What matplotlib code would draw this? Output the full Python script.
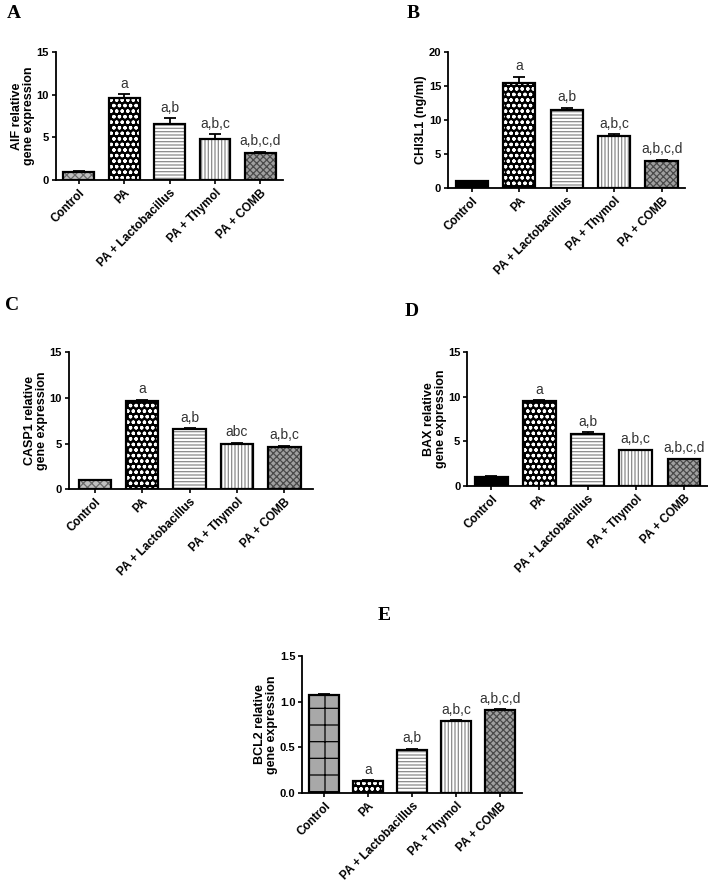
import numpy as np
import matplotlib
matplotlib.use("Agg")
import matplotlib.pyplot as plt

plt.rcParams['font.family'] = ['Liberation Sans', 'DejaVu Sans']
plt.rcParams['hatch.linewidth'] = 0.9

groups = ['Control', 'PA', 'PA + Lactobacillus', 'PA + Thymol', 'PA + COMB']

aif = [1.0, 9.6, 6.6, 4.8, 3.2]
aif_err = [0.1, 0.5, 0.7, 0.6, 0.15]
aif_sig = ['', 'a', 'a,b', 'a,b,c', 'a,b,c,d']

chi3l1 = [1.0, 15.5, 11.5, 7.6, 4.0]
chi3l1_err = [0.1, 0.9, 0.3, 0.3, 0.2]
chi3l1_sig = ['', 'a', 'a,b', 'a,b,c', 'a,b,c,d']

casp1 = [1.0, 9.7, 6.6, 5.0, 4.6]
casp1_err = [0.05, 0.1, 0.1, 0.1, 0.15]
casp1_sig = ['', 'a', 'a,b', 'abc', 'a,b,c']

bax = [1.0, 9.5, 5.8, 4.0, 3.0]
bax_err = [0.05, 0.15, 0.25, 0.05, 0.05]
bax_sig = ['', 'a', 'a,b', 'a,b,c', 'a,b,c,d']

bcl2 = [1.07, 0.13, 0.47, 0.79, 0.91]
bcl2_err = [0.01, 0.01, 0.015, 0.01, 0.01]
bcl2_sig = ['', 'a', 'a,b', 'a,b,c', 'a,b,c,d']

# (face, hatch colour, hatch) for each group
styles_grey_ctrl = [('#c0c0c0', '#6a6a6a', 'xxxx'),
                    ('black', 'white', 'ooo'),
                    ('white', '#8a8a8a', '-----'),
                    ('white', '#8a8a8a', '|||||'),
                    ('#a0a0a0', '#4a4a4a', 'xxxxx')]
styles_black_ctrl = [('black', 'black', '')] + styles_grey_ctrl[1:]
styles_grid_ctrl = [('#a8a8a8', 'black', '+')] + styles_grey_ctrl[1:]

fig = plt.figure(figsize=(7.08, 8.83), dpi=100)


def panel(rect, vals, errs, sig, ylabel, ymax, yticks, styles, xlim=(-0.5, 4.5)):
    ax = fig.add_axes(rect)
    x = np.arange(len(vals))
    for xi, v, (fc, hc, h) in zip(x, vals, styles):
        ax.bar(xi, v, 0.68, color=fc, edgecolor=hc, hatch=h, linewidth=0, zorder=2)
        ax.bar(xi, v, 0.68, fill=False, edgecolor='black', linewidth=1.6, zorder=3)
    ax.errorbar(x, vals, yerr=[np.zeros(len(vals)), errs], fmt='none',
                ecolor='black', elinewidth=1.3, capsize=4, capthick=1.3, zorder=4)
    for xi, v, e, s in zip(x, vals, errs, sig):
        if s:
            ax.text(xi, v + e + ymax * 0.025, s, ha='center', va='bottom',
                    fontsize=10, color='#333333')
    ax.set_xlim(*xlim)
    ax.set_ylim(0, ymax)
    ax.set_yticks(yticks)
    ax.set_xticks(x)
    ax.set_xticklabels(groups, rotation=45, ha='right', rotation_mode='anchor',
                       fontsize=8.5, fontweight='bold')
    for t in ax.get_yticklabels():
        t.set_fontsize(8)
        t.set_fontweight('bold')
    ax.set_ylabel(ylabel, fontsize=9, fontweight='bold', linespacing=1.0,
                  labelpad=1)
    for s in ['top', 'right']:
        ax.spines[s].set_visible(False)
    for s in ['left', 'bottom']:
        ax.spines[s].set_linewidth(1.3)
    ax.tick_params(length=3, width=1.2, pad=2)
    return ax


panel([0.079, 0.796, 0.321, 0.145], aif, aif_err, aif_sig,
      'AIF relative\ngene expression', 15, [0, 5, 10, 15], styles_grey_ctrl)
panel([0.633, 0.787, 0.335, 0.154], chi3l1, chi3l1_err, chi3l1_sig,
      'CHI3L1 (ng/ml)', 20, [0, 5, 10, 15, 20], styles_black_ctrl)
panel([0.097, 0.446, 0.345, 0.155], casp1, casp1_err, casp1_sig,
      'CASP1 relative\ngene expression', 15, [0, 5, 10, 15], styles_grey_ctrl,
      xlim=(-0.55, 4.6))
panel([0.660, 0.450, 0.340, 0.151], bax, bax_err, bax_sig,
      'BAX relative\ngene expression', 15, [0, 5, 10, 15], styles_black_ctrl)
panel([0.427, 0.102, 0.310, 0.155], bcl2, bcl2_err, bcl2_sig,
      'BCL2 relative\ngene expression', 1.5, [0.0, 0.5, 1.0, 1.5], styles_grid_ctrl)

for lbl, px, py in [('A', 14, 13), ('B', 413, 14), ('C', 12, 305),
                    ('D', 412, 312), ('E', 384, 615)]:
    fig.text(px / 708, 1 - py / 883, lbl, ha='center', va='center',
             fontsize=14, fontweight='bold', family='Liberation Serif')

fig.savefig('out.png', dpi=100)
